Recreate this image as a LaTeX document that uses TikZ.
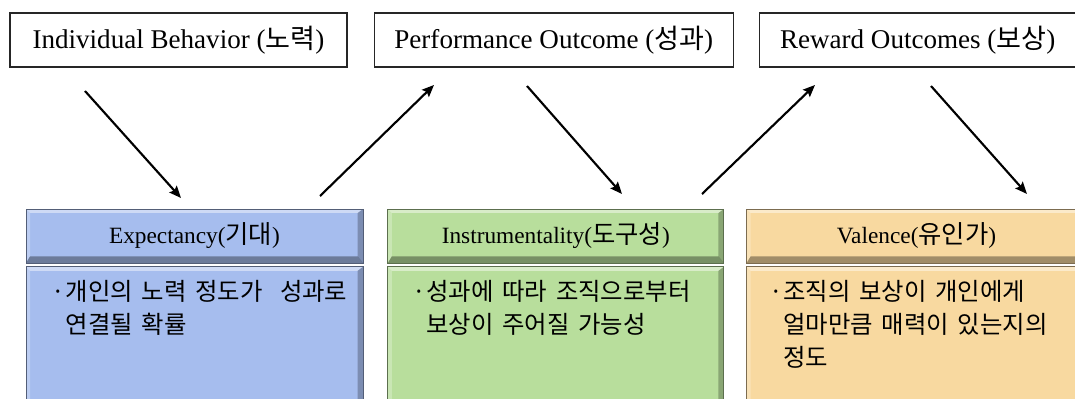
\documentclass[tikz,border=0pt]{standalone}
\usepackage{fontspec}
\setmainfont{Liberation Serif}
\newfontfamily\kr{Noto Sans CJK KR}
\newfontfamily\krbody[WordSpace=1.6]{Noto Sans CJK KR}
\usetikzlibrary{positioning, arrows.meta}
\definecolor{expCol}{HTML}{A6BDEE}
\definecolor{insCol}{HTML}{B8DE9C}
\definecolor{valCol}{HTML}{F8D9A0}
\newcommand{\krbig}[1]{{\kr\fontsize{19}{20}\selectfont #1}}

\begin{document}
\begin{tikzpicture}[x=0.75pt, y=-0.75pt,
    % Node styles
    topbox/.style={
        rectangle,
        draw=black!85,
        line width=1pt,
        minimum height=40.5pt,
        inner sep=0pt,
        font=\fontsize{20.3}{24}\selectfont
    },
    bevel/.style={
        path picture={
            \fill[white, opacity=.45] (path picture bounding box.north west) -- (path picture bounding box.north east)
                -- ([shift={(-4pt,-3pt)}]path picture bounding box.north east) -- ([shift={(3pt,-3pt)}]path picture bounding box.north west) -- cycle;
            \fill[white, opacity=.25] (path picture bounding box.north west) -- (path picture bounding box.south west)
                -- ([shift={(3pt,5pt)}]path picture bounding box.south west) -- ([shift={(3pt,-3pt)}]path picture bounding box.north west) -- cycle;
            \fill[black, opacity=.35] (path picture bounding box.south west) -- (path picture bounding box.south east)
                -- ([shift={(-4pt,5pt)}]path picture bounding box.south east) -- ([shift={(3pt,5pt)}]path picture bounding box.south west) -- cycle;
            \fill[black, opacity=.25] (path picture bounding box.north east) -- (path picture bounding box.south east)
                -- ([shift={(-4pt,5pt)}]path picture bounding box.south east) -- ([shift={(-4pt,-3pt)}]path picture bounding box.north east) -- cycle;
        }
    },
    header/.style={
        rectangle,
        draw=#1!50!black,
        fill=#1,
        line width=0.6pt,
        bevel,
        minimum height=40.5pt,
        inner sep=0pt,
        font=\fontsize{17.5}{20}\selectfont
    },
    panel/.style={
        rectangle,
        draw=#1!50!black,
        fill=#1,
        line width=0.6pt,
        bevel,
        minimum height=108pt,
        inner sep=0pt
    },
    bodytext/.style={
        align=left,
        inner sep=0pt,
        font=\krbody\fontsize{18.3}{24.75}\selectfont
    },
    arrow/.style={
        -{Stealth[length=9pt, width=7.5pt, inset=1.5pt]},
        line width=1.6pt
    }
]
    \useasboundingbox (0,0) rectangle (1075,399);

    % ==== TOP ROW ====
    \node[topbox, minimum width=252.75pt] (beh) at (178.5,40) {Individual Behavior ({\kr 노력})};
    \node[topbox, minimum width=269.25pt, right=19.5pt of beh] (perf) {Performance Outcome ({\kr 성과})};
    \node[topbox, minimum width=237pt, right=18.75pt of perf] (rew) {Reward Outcomes ({\kr 보상})};

    % ==== HEADERS ====
    \node[header=expCol, minimum width=252.75pt] (hdrexp) at (194.5,236) {Expectancy(\krbig{기대})};
    \node[header=insCol, minimum width=252pt, right=18pt of hdrexp] (hdrins) {Instrumentality(\krbig{도구성})};
    \node[header=valCol, minimum width=255pt, right=16.5pt of hdrins] (hdrval) {Valence(\krbig{유인가})};

    % ==== PANELS ====
    \node[panel=expCol, minimum width=252.75pt, below=2.25pt of hdrexp] (bodyexp) {};
    \node[panel=insCol, minimum width=252pt, below=2.25pt of hdrins] (bodyins) {};
    \node[panel=valCol, minimum width=255pt, below=2.25pt of hdrval] (bodyval) {};

    \node[bodytext, below right=10pt and 19.5pt of bodyexp.north west] (txtexp) {·개인의 노력 정도가\ \ 성과로\\\hphantom{·}연결될 확률};
    \node[bodytext, below right=10pt and 18.75pt of bodyins.north west] (txtins) {·성과에 따라 조직으로부터\\\hphantom{·}보상이 주어질 가능성};
    \node[bodytext, below right=10pt and 17.25pt of bodyval.north west] (txtval) {·조직의 보상이 개인에게\\\hphantom{·}얼마만큼 매력이 있는지의\\\hphantom{·}정도};

    % ==== ARROW ENDS ====
    \coordinate (fromBeh) at (85,91);
    \coordinate (toExp) at (181,198);
    \coordinate (fromExp) at (320,196);
    \coordinate (toPerf) at (434,85);
    \coordinate (fromPerf) at (527,86);
    \coordinate (toIns) at (622,194);
    \coordinate (fromIns) at (702,194);
    \coordinate (toRew) at (815,85);
    \coordinate (fromRew) at (931,86);
    \coordinate (toVal) at (1027,194);

    % ==== CONNECTIONS ====
    \draw[arrow] (fromBeh) -- (toExp);
    \draw[arrow] (fromExp) -- (toPerf);
    \draw[arrow] (fromPerf) -- (toIns);
    \draw[arrow] (fromIns) -- (toRew);
    \draw[arrow] (fromRew) -- (toVal);

\end{tikzpicture}
\end{document}
